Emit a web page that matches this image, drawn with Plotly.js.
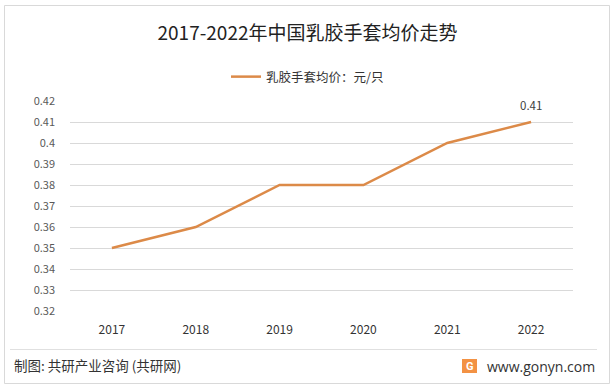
<!DOCTYPE html>
<html><head><meta charset="utf-8">
<script src="https://cdn.plot.ly/plotly-3.0.1.min.js"></script>
<style>html,body{margin:0;padding:0;background:#fff;}</style>
</head><body><div id="chart" style="width:615px;height:388px;"></div>
<script>
const years = ['2017','2018','2019','2020','2021','2022'];
const prices = [0.35, 0.36, 0.38, 0.38, 0.40, 0.41];
const labelIndex = 5;
const labelText = '0.41';
const seriesName = '乳胶手套均价：元/只';
const chartTitle = '2017-2022年中国乳胶手套均价走势';
const sourceText = '制图: 共研产业咨询 (共研网)';
const siteText = 'www.gonyn.com';

const L = 70, R = 573, T = 101, B = 311;
const px = x => (x - L) / (R - L);
const py = y => (B - y) / (B - T);
const cjk = '"Noto Sans CJK SC", "Microsoft YaHei", sans-serif';

const trace = {
  x: years, y: prices, name: seriesName, type: 'scatter', mode: 'lines',
  line: {color: '#DC8A48', width: 2.5},
  cliponaxis: false
};

const layout = {
  width: 615, height: 388,
  margin: {l: L, r: 615 - R, t: T, b: 388 - B},
  paper_bgcolor: '#fff', plot_bgcolor: '#fff',
  font: {family: cjk},
  title: {text: chartTitle, font: {family: cjk, size: 19, color: '#222'}, x: 0.5, xanchor: 'center', y: 1 - 33/388, yanchor: 'middle'},
  showlegend: true,
  legend: {orientation: 'h', x: px(226), xanchor: 'left', y: py(77), yanchor: 'middle',
           font: {family: cjk, size: 12.5, color: '#333'}, itemwidth: 30},
  xaxis: {type: 'category', range: [-0.5, 5.5], showgrid: false, zeroline: false, showline: false,
          ticks: '', tickfont: {family: cjk, size: 12, color: '#333'}, ticklabelstandoff: 10, fixedrange: true},
  yaxis: {range: [0.32, 0.42], dtick: 0.01, tick0: 0.32, showgrid: true, gridcolor: '#d9d9d9', gridwidth: 1,
          zeroline: false, showline: false, ticks: '', tickfont: {family: cjk, size: 11, color: '#595959'},
          ticklabelstandoff: 14, fixedrange: true},
  shapes: [
    {type: 'rect', xref: 'paper', yref: 'paper', x0: px(4.5), x1: px(609.5), y0: py(383.5), y1: py(5.5),
     line: {color: '#d9d9d9', width: 1}, fillcolor: 'rgba(0,0,0,0)', layer: 'below'},
    {type: 'line', xref: 'paper', yref: 'paper', x0: px(10), x1: px(597), y0: py(349.5), y1: py(349.5),
     line: {color: '#e0e0e0', width: 1}},
    {type: 'rect', xref: 'paper', yref: 'paper', x0: px(462), x1: px(477), y0: py(373), y1: py(359),
     line: {width: 0}, fillcolor: '#F39244'}
  ],
  annotations: [
    {x: labelIndex, y: prices[labelIndex], xref: 'x', yref: 'y', yshift: 17, showarrow: false,
     xanchor: 'center', yanchor: 'middle', text: labelText, font: {family: cjk, size: 11.5, color: '#404040'}},
    {xref: 'paper', yref: 'paper', x: px(12), y: py(365), xanchor: 'left', yanchor: 'middle', showarrow: false,
     text: sourceText, font: {family: cjk, size: 13.5, color: '#333'}},
    {xref: 'paper', yref: 'paper', x: px(597), y: py(366), xanchor: 'right', yanchor: 'middle', showarrow: false,
     text: siteText, font: {family: '"Open Sans", sans-serif', size: 14, color: '#333'}},
    {xref: 'paper', yref: 'paper', x: px(469.5), y: py(366), xanchor: 'center', yanchor: 'middle', showarrow: false,
     text: '<b>G</b>', font: {family: 'Roboto, sans-serif', size: 11, color: '#fff'}}
  ]
};

Plotly.newPlot('chart', [trace], layout, {displayModeBar: false, staticPlot: true});
</script></body></html>
